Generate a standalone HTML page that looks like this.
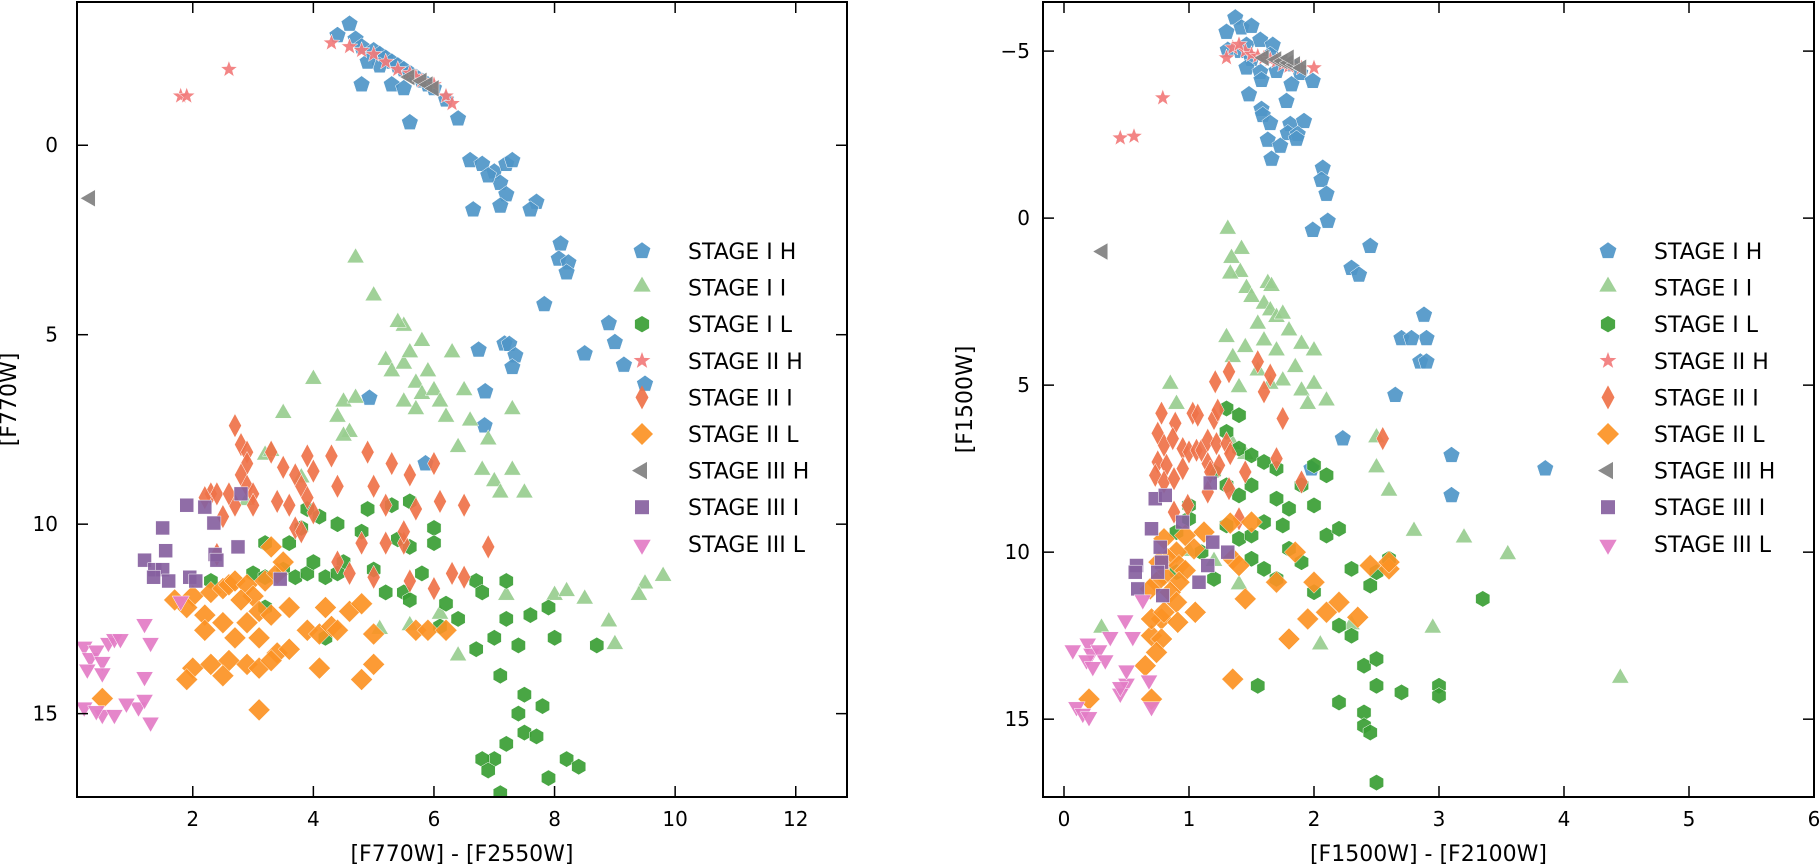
<!DOCTYPE html>
<html><head><meta charset="utf-8"><style>
html,body{margin:0;padding:0;background:#fff;}
svg{display:block;font-family:"DejaVu Sans","Liberation Sans",sans-serif;}
</style></head><body>
<svg id="chart" width="1820" height="866" viewBox="0 0 1820 866" xmlns="http://www.w3.org/2000/svg"></svg>
<script>
// ---------- Left panel data ([F770W]-[F2550W], [F770W]) ----------
const L_S1H=[[4.6,-3.2],[4.4,-2.9],[4.7,-2.8],[4.8,-2.6],[5.0,-2.5],[5.1,-2.4],[5.2,-2.3],[5.3,-2.2],[5.4,-2.1],[5.5,-2.0],[5.6,-1.9],[5.7,-1.8],[5.8,-1.7],[5.9,-1.6],[6.0,-1.5],[5.1,-2.1],[4.9,-2.2],[4.8,-1.6],[5.3,-1.6],[5.5,-1.5],[5.6,-0.6],[6.2,-1.2],[6.4,-0.7],[6.6,0.4],[6.8,0.5],[7.0,0.7],[7.1,1.0],[7.2,1.3],[7.2,0.5],[7.3,0.4],[6.9,0.8],[7.1,1.6],[6.65,1.7],[7.7,1.5],[7.6,1.7],[8.1,2.6],[8.07,3.0],[8.23,3.1],[8.2,3.36],[7.83,4.2],[8.5,5.5],[8.9,4.7],[9.0,5.2],[9.15,5.8],[9.5,6.3],[7.17,5.24],[7.25,5.25],[7.35,5.55],[7.3,5.86],[6.74,5.4],[6.85,6.5],[6.84,7.4],[4.93,6.67],[5.86,8.4]];
const L_S1I=[[4.7,3.0],[5.0,4.0],[5.5,4.8],[5.4,4.7],[4.0,6.2],[4.5,6.8],[4.7,6.7],[4.4,7.2],[4.6,7.6],[3.5,7.1],[3.8,8.8],[3.2,8.2],[5.2,5.7],[5.3,6.0],[5.5,5.8],[5.6,5.5],[5.7,6.3],[5.8,6.6],[5.9,6.0],[6.0,6.5],[5.8,5.2],[6.1,6.8],[6.3,5.5],[6.5,6.5],[6.2,7.2],[6.6,7.3],[6.4,8.0],[6.8,8.6],[7.0,8.9],[7.1,9.2],[7.3,8.6],[7.5,9.2],[6.9,7.8],[7.3,7.0],[5.5,6.8],[5.7,7.0],[4.5,7.7],[8.0,11.9],[8.2,11.8],[8.5,12.0],[9.5,11.6],[9.8,11.4],[9.4,11.9],[8.9,12.6],[9.0,13.2],[6.4,13.5],[6.1,12.4],[5.6,12.7],[5.1,12.8],[7.2,11.9],[2.9,9.4],[3.3,8.1]];
const L_S1L=[[3.9,9.6],[4.1,9.8],[3.8,10.1],[4.4,10.0],[4.8,10.2],[4.9,9.6],[5.3,9.5],[5.6,9.4],[5.4,10.4],[5.6,10.6],[6.0,10.1],[6.0,10.5],[3.2,10.5],[3.6,10.5],[4.5,11.0],[3.0,11.3],[3.2,11.4],[3.5,11.2],[3.7,11.4],[3.9,11.3],[4.2,11.4],[4.0,11.0],[4.4,11.3],[5.0,11.2],[5.2,11.8],[5.5,11.8],[5.6,12.0],[5.8,11.3],[6.2,12.1],[6.4,12.5],[6.7,11.5],[6.8,11.8],[7.2,11.5],[7.2,12.5],[6.7,13.3],[7.4,13.2],[7.0,13.0],[7.9,12.2],[8.0,13.0],[7.6,12.4],[7.1,14.0],[7.5,14.5],[7.4,15.0],[7.8,14.8],[7.5,15.5],[7.7,15.6],[7.2,15.8],[7.0,16.2],[6.8,16.2],[6.9,16.5],[7.1,17.1],[7.9,16.7],[8.2,16.2],[8.4,16.4],[8.7,13.2],[2.3,11.5],[3.2,12.2],[4.2,13.0],[6.1,12.7]];
const L_S2H=[[1.8,-1.3],[1.9,-1.3],[2.6,-2.0],[4.3,-2.7],[4.6,-2.6],[4.8,-2.5],[5.0,-2.4],[5.2,-2.2],[5.4,-2.0],[5.6,-1.9],[5.7,-1.8],[5.8,-1.7],[6.0,-1.6],[6.2,-1.3],[6.3,-1.1]];
const L_S2I=[[2.7,7.4],[2.8,7.9],[2.9,8.1],[2.9,8.4],[2.8,8.7],[2.9,9.0],[3.0,9.2],[2.7,9.5],[3.0,9.5],[2.5,9.8],[2.3,9.2],[2.2,9.3],[2.4,9.2],[2.6,9.2],[3.3,8.1],[3.5,8.5],[3.7,8.7],[3.9,8.2],[4.0,8.6],[3.8,9.0],[3.9,9.3],[4.0,9.7],[3.6,9.5],[3.4,9.4],[4.3,8.2],[4.4,9.0],[4.9,8.1],[5.0,9.0],[5.2,9.5],[5.3,8.4],[5.6,8.7],[6.0,8.4],[5.7,9.6],[6.1,9.4],[6.5,9.5],[3.7,10.1],[3.8,10.2],[4.8,10.5],[5.2,10.5],[5.5,10.5],[4.4,11.0],[4.6,11.3],[5.0,11.4],[5.6,11.5],[6.0,11.7],[6.3,11.3],[6.5,11.4],[5.5,10.2],[2.4,10.8],[6.9,10.6]];
const L_S2L=[[2.0,11.9],[2.3,11.8],[2.5,11.7],[2.6,11.6],[2.7,11.5],[2.9,11.6],[3.0,11.9],[2.8,12.0],[3.2,11.5],[3.3,10.6],[3.4,11.3],[3.5,11.0],[1.9,12.2],[2.2,12.4],[2.5,12.6],[2.9,12.6],[3.1,12.3],[3.3,12.4],[3.6,12.2],[4.2,12.2],[4.6,12.3],[4.8,12.1],[2.2,12.8],[2.7,13.0],[3.1,13.0],[3.4,13.4],[2.0,13.8],[2.3,13.7],[2.6,13.6],[2.9,13.7],[3.1,13.8],[3.3,13.6],[3.6,13.3],[3.9,12.8],[4.1,12.9],[4.3,12.7],[4.4,12.8],[2.5,14.0],[1.9,14.1],[3.1,14.9],[0.5,14.6],[4.1,13.8],[4.8,14.1],[5.0,12.9],[5.7,12.8],[5.9,12.8],[6.2,12.8],[5.0,13.7],[1.7,12.0]];
const L_S3H=[[0.3,1.4],[5.6,-1.8],[5.8,-1.7],[5.9,-1.6],[6.0,-1.5]];
const L_S3I=[[2.8,9.2],[1.9,9.5],[2.2,9.55],[2.35,9.97],[1.5,10.1],[1.55,10.7],[1.2,10.95],[1.37,11.2],[1.5,11.2],[1.6,11.5],[1.95,11.4],[2.05,11.5],[2.37,10.8],[2.4,10.95],[2.75,10.6],[3.45,11.45],[1.35,11.4]];
const L_S3L=[[0.2,13.2],[0.3,13.5],[0.25,13.8],[0.4,13.3],[0.5,13.6],[0.6,13.1],[0.7,13.0],[0.8,13.0],[0.5,13.9],[1.2,12.6],[1.3,13.1],[1.2,14.0],[1.8,12.0],[0.2,14.8],[0.5,15.0],[0.7,15.0],[1.1,14.8],[1.2,14.6],[1.3,15.2],[0.9,14.7],[0.4,14.9]];
// ---------- Right panel data ([F1500W]-[F2100W], [F1500W]) ----------
const R_S1H=[[1.37,-6.0],[1.3,-5.57],[1.42,-5.7],[1.5,-5.75],[1.31,-5.03],[1.41,-5.0],[1.46,-5.18],[1.57,-5.33],[1.67,-5.18],[1.65,-4.88],[1.5,-4.76],[1.46,-4.5],[1.57,-4.37],[1.58,-4.13],[1.7,-4.4],[1.81,-4.6],[1.89,-4.34],[1.82,-4.0],[1.99,-4.1],[1.48,-3.7],[1.78,-3.5],[1.58,-3.26],[1.59,-3.08],[1.65,-2.84],[1.81,-2.81],[1.92,-2.9],[1.79,-2.54],[1.87,-2.51],[1.86,-2.37],[1.63,-2.34],[1.73,-2.16],[1.66,-1.77],[2.07,-1.5],[2.06,-1.14],[2.1,-0.72],[2.11,0.09],[1.99,0.36],[2.45,0.84],[2.3,1.5],[2.36,1.7],[2.88,2.9],[2.9,3.6],[2.7,3.6],[2.78,3.6],[2.85,4.3],[2.9,4.3],[2.65,5.3],[2.23,6.6],[3.1,7.1],[3.1,8.3],[3.85,7.5],[1.98,7.5]];
const R_S1I=[[1.31,0.36],[1.42,0.96],[1.34,1.23],[1.41,1.65],[1.33,1.7],[1.46,2.13],[1.63,1.98],[1.66,2.07],[1.5,2.4],[1.6,2.6],[1.65,2.8],[1.7,3.0],[1.55,3.2],[1.75,2.9],[1.8,3.4],[1.3,3.6],[1.45,3.9],[1.6,3.7],[1.7,4.0],[1.9,3.8],[2.0,4.0],[1.85,4.5],[1.55,4.6],[1.35,4.2],[1.75,4.9],[1.65,5.0],[2.0,5.0],[1.9,5.2],[2.1,5.5],[1.95,5.6],[1.4,5.1],[0.85,5.0],[0.9,5.6],[1.35,6.8],[1.45,7.1],[2.5,6.6],[2.5,7.5],[2.6,8.2],[2.8,9.4],[3.2,9.6],[3.55,10.1],[2.95,12.3],[4.45,13.8],[2.3,12.2],[2.05,12.8],[1.2,10.3],[0.3,12.3],[1.4,11.0],[1.0,10.0]];
const R_S1L=[[1.0,8.6],[1.0,9.0],[0.9,9.4],[1.3,6.4],[1.4,6.9],[1.5,7.1],[1.6,7.3],[1.7,7.5],[1.2,7.6],[1.3,8.0],[1.4,8.3],[1.5,8.0],[1.7,8.4],[1.6,9.1],[1.8,8.7],[1.9,8.0],[2.0,7.4],[2.1,7.7],[2.0,8.6],[1.3,9.2],[1.4,9.6],[1.5,9.5],[1.8,9.9],[1.9,10.3],[2.1,9.5],[2.2,9.3],[1.1,10.0],[1.2,10.8],[1.5,10.2],[1.6,10.5],[1.7,10.8],[2.0,11.2],[2.3,10.5],[2.5,10.6],[2.6,10.2],[2.45,11.0],[2.2,12.2],[2.3,12.5],[2.4,13.4],[2.5,13.2],[2.5,14.0],[2.2,14.5],[2.4,14.8],[2.4,15.2],[2.45,15.4],[2.5,16.9],[2.7,14.2],[3.0,14.0],[3.0,14.3],[3.35,11.4],[1.55,14.0],[1.3,5.7],[1.4,5.9],[0.9,10.6],[1.75,9.2]];
const R_S2H=[[0.45,-2.4],[0.56,-2.45],[0.79,-3.6],[1.35,-5.1],[1.45,-5.0],[1.5,-4.9],[1.55,-4.85],[1.6,-4.8],[1.65,-4.75],[1.7,-4.7],[1.75,-4.6],[1.8,-4.55],[1.9,-4.5],[2.0,-4.5],[1.4,-5.2],[1.3,-4.8]];
const R_S2I=[[1.32,4.6],[1.21,4.9],[0.78,5.84],[0.89,6.14],[1.03,5.84],[1.07,5.9],[1.2,6.0],[1.23,5.75],[0.75,6.44],[0.8,6.8],[0.87,6.6],[0.75,7.3],[0.82,7.4],[0.73,7.7],[0.8,7.9],[0.88,7.8],[0.95,6.9],[1.0,7.0],[1.06,6.95],[0.95,7.5],[1.1,6.95],[1.15,6.65],[1.22,6.75],[1.3,6.75],[1.33,7.05],[1.15,7.35],[1.24,7.4],[1.17,7.6],[1.32,8.1],[1.15,8.2],[0.88,8.8],[0.99,8.6],[1.6,5.2],[1.75,6.0],[1.55,4.3],[1.65,4.7],[2.55,6.6],[1.7,7.2],[1.45,7.6],[1.9,7.9],[1.4,9.0]];
const R_S2L=[[1.33,9.13],[1.12,9.4],[0.97,9.5],[0.8,9.6],[1.04,9.9],[0.9,10.0],[0.83,10.2],[0.76,10.3],[0.92,10.4],[0.97,10.55],[0.8,10.7],[0.92,10.9],[0.74,10.9],[0.69,11.1],[0.85,11.2],[0.9,11.5],[1.05,11.8],[0.78,12.0],[0.91,12.1],[0.7,12.5],[0.78,12.6],[0.74,13.0],[1.35,10.2],[2.0,10.9],[2.1,11.8],[1.95,12.0],[2.2,11.5],[2.35,11.95],[2.45,10.4],[2.6,10.5],[2.6,10.3],[1.45,11.4],[1.7,10.9],[1.8,12.6],[1.85,10.0],[1.5,9.1],[1.4,10.4],[1.35,13.8],[0.7,14.4],[0.65,13.4],[0.2,14.4],[0.7,12.0],[0.8,11.8]];
const R_S3H=[[0.31,1.0],[1.6,-4.8],[1.7,-4.75],[1.75,-4.7],[1.8,-4.65],[1.85,-4.6],[1.9,-4.5],[1.8,-4.8]];
const R_S3I=[[1.17,7.93],[0.73,8.4],[0.81,8.3],[0.95,9.1],[0.7,9.3],[0.77,9.85],[0.78,10.3],[0.58,10.4],[0.57,10.6],[0.75,10.6],[0.59,11.1],[0.79,11.3],[1.15,10.4],[1.08,10.9],[1.19,9.7],[1.31,10.0]];
const R_S3L=[[0.07,12.9],[0.19,12.7],[0.22,13.0],[0.28,12.9],[0.33,13.2],[0.18,13.2],[0.23,13.4],[0.37,12.5],[0.49,12.0],[0.55,12.5],[0.63,11.4],[0.5,13.9],[0.68,13.8],[0.1,14.6],[0.15,14.8],[0.2,14.9],[0.45,14.2],[0.45,14.0],[0.7,14.6],[0.5,13.5]];
const seriesNames=["STAGE I H","STAGE I I","STAGE I L","STAGE II H","STAGE II I","STAGE II L","STAGE III H","STAGE III I","STAGE III L"];
const L_xTicks=[2,4,6,8,10,12];
const L_yTicks=[0,5,10,15];
const R_xTicks=[0,1,2,3,4,5,6];
const R_yTicks=[-5,0,5,10,15];

const NS="http://www.w3.org/2000/svg";
const svg=document.getElementById('chart');
const colors=["#4f96c8","#98cd8f","#3a9e34","#f27b7b","#ef7249","#fc9224","#808080","#8761a0","#e37cc5"];
const shapes=["pent","tri","hex","star","thin","diam","left","sq","down"];
function mk(tag,attrs,parent){const e=document.createElementNS(NS,tag);for(const k in attrs)e.setAttribute(k,attrs[k]);(parent||svg).appendChild(e);return e;}
function poly(cx,cy,n,r,rot){let p=[];for(let i=0;i<n;i++){const a=rot+i*2*Math.PI/n;p.push((cx+r*Math.cos(a)).toFixed(1)+","+(cy+r*Math.sin(a)).toFixed(1));}return p.join(" ");}
function shapePts(s,x,y){
  switch(s){
    case "pent":return poly(x,y,5,8.8,-Math.PI/2);
    case "tri":return poly(x,y-1,3,10,-Math.PI/2);
    case "hex":return poly(x,y,6,8.2,-Math.PI/2);
    case "down":return poly(x,y+1,3,10,Math.PI/2);
    case "left":return poly(x,y,3,10,Math.PI);
    case "sq":return `${x-7},${y-7} ${x+7},${y-7} ${x+7},${y+7} ${x-7},${y+7}`;
    case "diam":return `${x},${y-11} ${x+11},${y} ${x},${y+11} ${x-11},${y}`;
    case "thin":return `${x},${y-12} ${x+6.5},${y} ${x},${y+12} ${x-6.5},${y}`;
    case "star":{let p=[];for(let i=0;i<10;i++){const a=-Math.PI/2+i*Math.PI/5;const r=i%2?3.6:8.8;p.push((x+r*Math.cos(a)).toFixed(1)+","+(y+r*Math.sin(a)).toFixed(1));}return p.join(" ");}
  }
}
function panel(cfg){
  const {id,x0,x1,y0,y1,xmin,xmax,ymin,ymax,xt,yt,data,xlabel,ylabel,ylx,ytx,legX}=cfg;
  const sx=v=>x0+(v-xmin)/(xmax-xmin)*(x1-x0);
  const sy=v=>y0+(v-ymin)/(ymax-ymin)*(y1-y0);
  const g=mk('g',{});
  
  
  const clip=mk('clipPath',{id:id+'clip'},g);mk('rect',{x:x0,y:y0,width:x1-x0,height:y1-y0},clip);
  const pg=mk('g',{'clip-path':`url(#${id}clip)`},g);
  data.forEach((ser,si)=>{
    const sg=mk('g',{fill:colors[si],'fill-opacity':0.92,stroke:'#fff','stroke-width':0.5},pg);
    
    
    ser.forEach(d=>{
      const p=mk('polygon',{points:shapePts(shapes[si],sx(d[0]),sy(d[1]))},sg);
      
      
    });
  });
  const fr=mk('rect',{x:x0,y:y0,width:x1-x0,height:y1-y0,fill:'none',stroke:'#000','stroke-width':2},g);
  
  
  xt.forEach(v=>{
    const X=sx(v);
    mk('line',{x1:X,x2:X,y1:y1,y2:y1-11,stroke:'#000','stroke-width':1.5},g);
    mk('line',{x1:X,x2:X,y1:y0,y2:y0+11,stroke:'#000','stroke-width':1.5},g);
    const t=mk('text',{x:X,y:y1+29,'text-anchor':'middle','font-size':20},g);t.textContent=v;
    
    
  });
  yt.forEach(v=>{
    const Y=sy(v);
    mk('line',{x1:x0,x2:x0+11,y1:Y,y2:Y,stroke:'#000','stroke-width':1.5},g);
    mk('line',{x1:x1,x2:x1-11,y1:Y,y2:Y,stroke:'#000','stroke-width':1.5},g);
    const t=mk('text',{x:ytx,y:Y+7,'text-anchor':'end','font-size':20},g);t.textContent=(v<0?'\u2212'+(-v):v);
    
    
  });
  const xl=mk('text',{x:(x0+x1)/2,y:861,'text-anchor':'middle','font-size':22},g);xl.textContent=xlabel;
  
  
  const yl=mk('text',{x:ylx,y:(y0+y1)/2,'text-anchor':'middle','font-size':22,transform:`rotate(-90 ${ylx} ${(y0+y1)/2})`},g);yl.textContent=ylabel;
  
  
  const lg=mk('g',{},g);
  
  
  seriesNames.forEach((n,i)=>{
    const Y=251+i*36.6;
    const e=mk('g',{},lg);
    
    
    mk('polygon',{points:shapePts(shapes[i],legX,Y),fill:colors[i],'fill-opacity':0.92},e);
    const t=mk('text',{x:legX+46,y:Y+8,'font-size':22},e);t.textContent=n;
  });
}
panel({id:'left',x0:77,x1:847,y0:2,y1:797,xmin:0.08,xmax:12.85,ymin:-3.78,ymax:17.2,xt:L_xTicks,yt:L_yTicks,
  data:[L_S1H,L_S1I,L_S1L,L_S2H,L_S2I,L_S2L,L_S3H,L_S3I,L_S3L],xlabel:'[F770W] - [F2550W]',ylabel:'[F770W]',ylx:16,ytx:58,legX:642});
panel({id:'right',x0:1043,x1:1814,y0:2,y1:797,xmin:-0.168,xmax:6.0,ymin:-6.47,ymax:17.33,xt:R_xTicks,yt:R_yTicks,
  data:[R_S1H,R_S1I,R_S1L,R_S2H,R_S2I,R_S2L,R_S3H,R_S3I,R_S3L],xlabel:'[F1500W] - [F2100W]',ylabel:'[F1500W]',ylx:972,ytx:1030,legX:1608});
</script>
</body></html>
